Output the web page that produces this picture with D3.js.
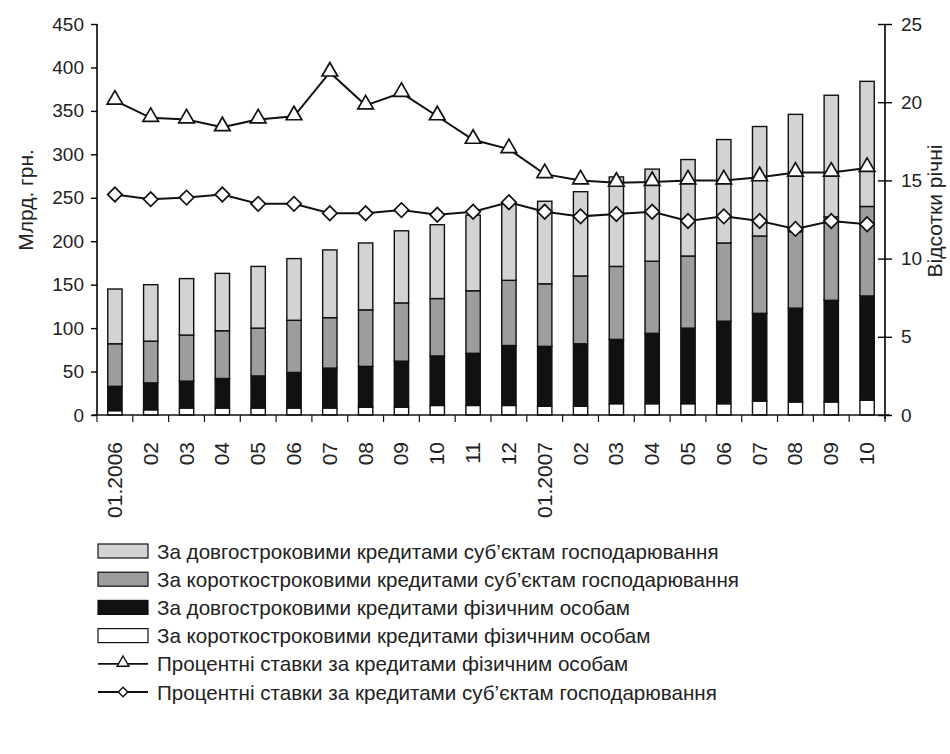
<!DOCTYPE html>
<html>
<head>
<meta charset="utf-8">
<script src="https://cdn.jsdelivr.net/npm/d3@7"></script>
<style>
  body { margin: 0; background: #fff; }
  svg { display: block; font-family: 'Liberation Sans', Arial, sans-serif; }
</style>
</head>
<body>
<div id="chart"></div>
<script>
// ── Data ────────────────────────────────────────────────────
const months = ['01.2006','02','03','04','05','06','07','08','09','10','11','12',
                '01.2007','02','03','04','05','06','07','08','09','10'];

// bln UAH, stacked bottom → top
const shortIndiv = [5, 6, 8, 8, 8, 8, 8, 9, 9, 11, 11, 11, 10, 10, 13, 13, 13, 13, 16, 15, 15, 17];
const longIndiv  = [28, 31, 31, 34, 37, 41, 46, 47, 53, 57, 60, 69, 69, 72, 74, 81, 87, 95, 101, 108, 117, 120];
const shortBiz   = [49, 48, 53, 55, 55, 60, 58, 65, 67, 66, 72, 75, 72, 78, 84, 83, 83, 90, 89, 88, 96, 103];
const longBiz    = [63, 65, 65, 66, 71, 71, 78, 77, 83, 85, 87, 89, 95, 97, 103, 106, 111, 119, 126, 135, 140, 144];

// % per annum
const rateIndiv = [20.1, 19.0, 18.9, 18.4, 18.9, 19.1, 21.9, 19.8, 20.6, 19.1, 17.6, 17.0,
                   15.4, 15.0, 14.85, 14.9, 15.0, 15.0, 15.2, 15.5, 15.5, 15.8];
const rateBiz   = [14.1, 13.8, 13.9, 14.1, 13.5, 13.5, 12.9, 12.9, 13.1, 12.8, 13.0, 13.6,
                   13.0, 12.7, 12.85, 13.0, 12.4, 12.7, 12.4, 11.9, 12.4, 12.2];

const leftTicks  = [0, 50, 100, 150, 200, 250, 300, 350, 400, 450];
const rightTicks = [0, 5, 10, 15, 20, 25];

const seriesKeys  = ['shortIndiv', 'longIndiv', 'shortBiz', 'longBiz'];
const seriesFill  = { shortIndiv: '#ffffff', longIndiv: '#111111', shortBiz: '#9d9d9d', longBiz: '#d3d3d3' };
const legendItems = [
  { type: 'bar',  key: 'longBiz',    text: 'За довгостроковими кредитами суб\u2019єктам господарювання' },
  { type: 'bar',  key: 'shortBiz',   text: 'За короткостроковими кредитами суб\u2019єктам господарювання' },
  { type: 'bar',  key: 'longIndiv',  text: 'За довгостроковими кредитами фізичним особам' },
  { type: 'bar',  key: 'shortIndiv', text: 'За короткостроковими кредитами фізичним особам' },
  { type: 'tri',  text: 'Процентні ставки за кредитами фізичним особам' },
  { type: 'dia',  text: 'Процентні ставки за кредитами суб\u2019єктам господарювання' }
];

// ── Setup ───────────────────────────────────────────────────
const width = 950, height = 754;
const margin = { top: 24, right: 65, bottom: 339, left: 97 };
const innerW = width - margin.left - margin.right;
const innerH = height - margin.top - margin.bottom;
const font = "'Liberation Sans', Arial, sans-serif";

const svg = d3.select('#chart').append('svg')
  .attr('width', width).attr('height', height);

const g = svg.append('g')
  .attr('transform', `translate(${margin.left},${margin.top})`);

const table = months.map((m, i) => ({
  i, month: m,
  shortIndiv: shortIndiv[i], longIndiv: longIndiv[i],
  shortBiz: shortBiz[i], longBiz: longBiz[i]
}));

// ── Scales ──────────────────────────────────────────────────
const x = d3.scaleBand()
  .domain(d3.range(months.length))
  .range([0, innerW])
  .paddingInner(0.6)
  .paddingOuter(0.3);

const y = d3.scaleLinear().domain([0, 450]).range([innerH, 0]);
const yR = d3.scaleLinear().domain([0, 25]).range([innerH, 0]);

const cx = i => x(i) + x.bandwidth() / 2;

// ── Stacked bars ────────────────────────────────────────────
const stack = d3.stack().keys(seriesKeys)(table);

g.append('g').selectAll('g')
  .data(stack)
  .join('g')
  .attr('fill', d => seriesFill[d.key])
  .selectAll('rect')
  .data(d => d)
  .join('rect')
  .attr('x', d => x(d.data.i))
  .attr('y', d => y(d[1]))
  .attr('width', x.bandwidth())
  .attr('height', d => y(d[0]) - y(d[1]))
  .attr('stroke', '#111')
  .attr('stroke-width', 1.4);

// ── Axes ────────────────────────────────────────────────────
const axisL = g.append('g')
  .call(d3.axisLeft(y).tickValues(leftTicks).tickSize(6).tickPadding(7));
axisL.select('.domain').attr('d', `M0,${innerH}V0`).attr('stroke-width', 1.6);
axisL.selectAll('.tick line').attr('stroke-width', 1.4);
axisL.selectAll('text').attr('font-size', '19px').attr('fill', '#222')
  .attr('font-family', font);

const axisR = g.append('g')
  .attr('transform', `translate(${innerW},0)`)
  .call(d3.axisRight(yR).tickValues(rightTicks).tickSize(7).tickPadding(9));
axisR.select('.domain').attr('d', `M0,${innerH + 4}V0`).attr('stroke-width', 1.6);
axisR.selectAll('.tick line').attr('x1', -7).attr('stroke-width', 1.4);
axisR.selectAll('text').attr('font-size', '19px').attr('fill', '#222')
  .attr('font-family', font);

// x axis: ticks between the bars
const xa = g.append('g').attr('transform', `translate(0,${innerH})`);
xa.append('line')
  .attr('x1', -5).attr('x2', innerW + 5)
  .attr('stroke', '#111').attr('stroke-width', 1.6);
xa.selectAll('line.sep')
  .data(d3.range(months.length + 1))
  .join('line')
  .attr('class', 'sep')
  .attr('x1', i => i * x.step()).attr('x2', i => i * x.step())
  .attr('y1', 0).attr('y2', 7)
  .attr('stroke', '#111').attr('stroke-width', 1.2);

xa.selectAll('text')
  .data(months)
  .join('text')
  .attr('transform', (d, i) => `translate(${cx(i) + 7},27) rotate(-90)`)
  .attr('text-anchor', 'end')
  .attr('font-size', '21px')
  .attr('fill', '#222')
  .text(d => d);

// ── Axis titles ─────────────────────────────────────────────
svg.append('text')
  .attr('transform', 'translate(33,200) rotate(-90)')
  .attr('text-anchor', 'middle')
  .attr('font-size', '21px').attr('fill', '#222')
  .text('Млрд. грн.');

svg.append('text')
  .attr('transform', 'translate(942,211) rotate(-90)')
  .attr('text-anchor', 'middle')
  .attr('font-size', '21px').attr('fill', '#222')
  .text('Відсотки річні');

// ── Rate lines ──────────────────────────────────────────────
const line = d3.line().x((d, i) => cx(i)).y(d => yR(d));
const triSym = d3.symbol(d3.symbolTriangle, 105);
const diaSym = d3.symbol(d3.symbolSquare, 105);

[rateIndiv, rateBiz].forEach(arr => {
  g.append('path')
    .datum(arr)
    .attr('fill', 'none')
    .attr('stroke', '#111')
    .attr('stroke-width', 2)
    .attr('d', line);
});

g.append('g').selectAll('path')
  .data(rateIndiv)
  .join('path')
  .attr('d', triSym)
  .attr('transform', (d, i) => `translate(${cx(i)},${yR(d) - 1})`)
  .attr('fill', '#fff').attr('stroke', '#111').attr('stroke-width', 1.7);

g.append('g').selectAll('path')
  .data(rateBiz)
  .join('path')
  .attr('d', diaSym)
  .attr('transform', (d, i) => `translate(${cx(i)},${yR(d)}) rotate(45)`)
  .attr('fill', '#fff').attr('stroke', '#111').attr('stroke-width', 1.7);

// ── Legend ──────────────────────────────────────────────────
const legend = svg.append('g').attr('transform', 'translate(98,551)');
const rowH = 28.2;

legendItems.forEach((item, k) => {
  const row = legend.append('g').attr('transform', `translate(0,${k * rowH})`);
  if (item.type === 'bar') {
    row.append('rect')
      .attr('x', 0).attr('y', -7).attr('width', 50).attr('height', 14)
      .attr('fill', seriesFill[item.key])
      .attr('stroke', '#111').attr('stroke-width', 1.2);
  } else {
    row.append('line')
      .attr('x1', 0).attr('x2', 50).attr('y1', 0).attr('y2', 0)
      .attr('stroke', '#111').attr('stroke-width', 1.8);
    row.append('path')
      .attr('d', item.type === 'tri' ? d3.symbol(d3.symbolTriangle, 60)() : d3.symbol(d3.symbolSquare, 45)())
      .attr('transform', item.type === 'tri' ? 'translate(25,-1)' : 'translate(25,0) rotate(45)')
      .attr('fill', '#fff').attr('stroke', '#111').attr('stroke-width', 1.4);
  }
  row.append('text')
    .attr('x', 59).attr('y', 7.5)
    .attr('font-size', '20.6px').attr('fill', '#222')
    .text(item.text);
});
</script>
</body>
</html>
